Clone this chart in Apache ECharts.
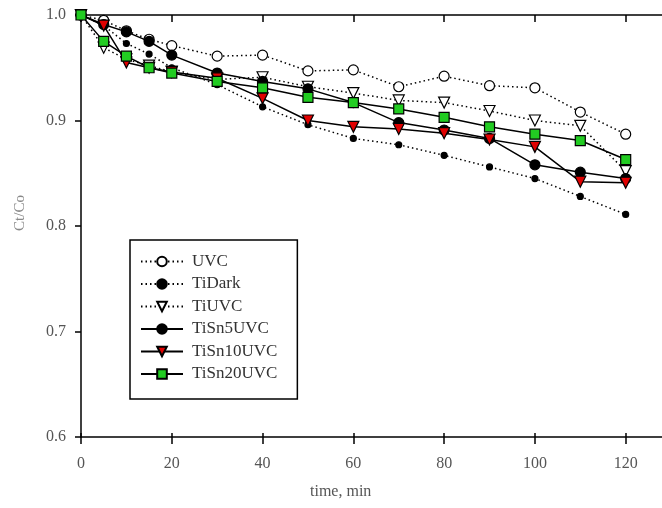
<!DOCTYPE html>
<html>
<head>
<meta charset="utf-8">
<script src="https://cdn.jsdelivr.net/npm/echarts@6/dist/echarts.min.js"></script>
<style>
html,body{margin:0;padding:0;background:#fff;}
#chart{width:662px;height:508px;}
</style>
</head>
<body>
<div id="chart"></div>
<script>
const times = [0, 5, 10, 15, 20, 30, 40, 50, 60, 70, 80, 90, 100, 110, 120];
const seriesNames = ['UVC', 'TiDark', 'TiUVC', 'TiSn5UVC', 'TiSn10UVC', 'TiSn20UVC'];
const uvc       = [1.0, 0.995, 0.985, 0.977, 0.971, 0.961, 0.962, 0.947, 0.948, 0.932, 0.942, 0.933, 0.931, 0.908, 0.887];
const tiDark    = [1.0, 0.990, 0.973, 0.963, 0.950, 0.934, 0.913, 0.896, 0.883, 0.877, 0.867, 0.856, 0.845, 0.828, 0.811];
const tiUVC     = [1.0, 0.969, 0.958, 0.952, 0.946, 0.939, 0.941, 0.932, 0.926, 0.919, 0.917, 0.909, 0.900, 0.895, 0.852];
const tiSn5UVC  = [1.0, 0.991, 0.984, 0.975, 0.962, 0.945, 0.937, 0.930, 0.917, 0.898, 0.891, 0.883, 0.858, 0.851, 0.845];
const tiSn10UVC = [1.0, 0.990, 0.955, 0.950, 0.946, 0.940, 0.921, 0.900, 0.894, 0.892, 0.888, 0.882, 0.875, 0.842, 0.841];
const tiSn20UVC = [1.0, 0.975, 0.961, 0.950, 0.945, 0.937, 0.931, 0.922, 0.917, 0.911, 0.903, 0.894, 0.887, 0.881, 0.863];
const xTicks = [0, 20, 40, 60, 80, 100, 120];
const yTicks = [0.6, 0.7, 0.8, 0.9, 1.0];

const pair = arr => times.map((t, i) => [t, arr[i]]);
const serif = '"Liberation Serif", "DejaVu Serif", serif';
const dotted = { color: '#000', width: 1.5, type: [1.5, 3] };
const solid = { color: '#000', width: 1.5, type: 'solid' };

function mk(name, data, symbol, size, fill, line, rotate) {
  return {
    name: name, type: 'line', data: pair(data),
    symbol: symbol, symbolSize: size, symbolRotate: rotate || 0,
    showAllSymbol: true,
    itemStyle: { color: fill, borderColor: '#000', borderWidth: 1.2 },
    lineStyle: line,
    emphasis: { disabled: true },
    animation: false
  };
}

const chart = echarts.init(document.getElementById('chart'), null, { renderer: 'canvas' });
chart.setOption({
  backgroundColor: '#fff',
  animation: false,
  grid: { left: 81, top: 15, right: 0, bottom: 71, containLabel: false },
  legend: {
    orient: 'vertical',
    left: 130, top: 240,
    data: seriesNames,
    itemWidth: 42, itemHeight: 12, itemGap: 5.5,
    padding: [13, 20, 16.5, 10],
    borderColor: '#000', borderWidth: 1.5,
    backgroundColor: '#fff',
    textStyle: { fontFamily: serif, fontSize: 17, color: '#333', padding: [0, 0, 0, 4] },
    selectedMode: false
  },
  xAxis: [
    {
      type: 'value', position: 'bottom', min: 0, max: 128, interval: 20,
      axisLine: { show: true, onZero: false, lineStyle: { color: '#000', width: 1.5 } },
      axisTick: { show: true, inside: false, length: 7, customValues: xTicks, lineStyle: { color: '#000', width: 1.5 } },
      axisLabel: { fontFamily: serif, fontSize: 16, color: '#555', margin: 19,
        customValues: xTicks, formatter: v => String(v) },
      splitLine: { show: false }
    },
    {
      type: 'value', position: 'top', min: 0, max: 128, interval: 20,
      axisLine: { show: true, onZero: false, lineStyle: { color: '#000', width: 1.5 } },
      axisTick: { show: true, inside: true, length: 7, customValues: xTicks, lineStyle: { color: '#000', width: 1.5 } },
      axisLabel: { show: false },
      splitLine: { show: false }
    },
    {
      type: 'value', position: 'bottom', min: 0, max: 128, interval: 20,
      axisLine: { show: false, onZero: false },
      axisTick: { show: true, inside: true, length: 4, customValues: xTicks, lineStyle: { color: '#000', width: 1.5 } },
      axisLabel: { show: false },
      splitLine: { show: false }
    }
  ],
  yAxis: {
    type: 'value', min: 0.6, max: 1.0, interval: 0.1,
    axisLine: { show: true, onZero: false, lineStyle: { color: '#000', width: 1.5 } },
    axisTick: { show: true, inside: false, length: 6, lineStyle: { color: '#000', width: 1.5 } },
    axisLabel: { fontFamily: serif, fontSize: 16, color: '#555', margin: 15,
      customValues: yTicks, formatter: v => v.toFixed(1) },
    splitLine: { show: false }
  },
  graphic: [
    { type: 'text', left: 343 - 33, top: 484,
      style: { text: 'time, min', font: '16px ' + serif, fill: '#555' } },
    { type: 'text', x: 20, y: 213, rotation: Math.PI / 2,
      style: { text: 'Ct/Co', font: '15px ' + serif, fill: '#888', align: 'center', verticalAlign: 'middle' } }
  ],
  series: [
    mk('UVC', uvc, 'circle', 10, '#fff', dotted),
    mk('TiDark', tiDark, 'circle', 6, '#000', dotted),
    mk('TiUVC', tiUVC, 'triangle', 11, '#fff', dotted, 180),
    mk('TiSn5UVC', tiSn5UVC, 'circle', 10, '#000', solid),
    mk('TiSn10UVC', tiSn10UVC, 'triangle', 11, '#e00000', solid, 180),
    mk('TiSn20UVC', tiSn20UVC, 'rect', 10, '#22cc22', solid)
  ]
});
</script>
</body>
</html>
